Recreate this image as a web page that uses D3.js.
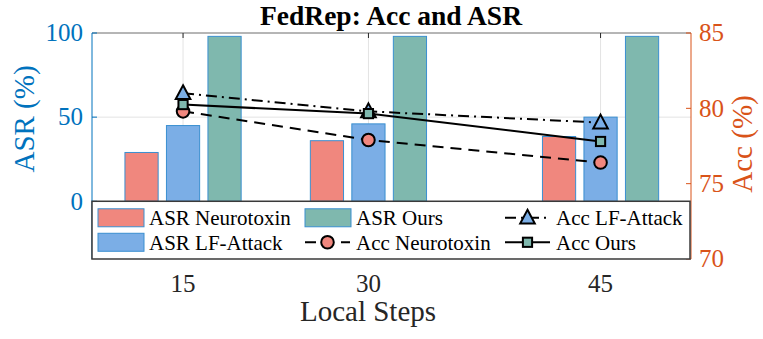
<!DOCTYPE html>
<html>
<head>
<meta charset="utf-8">
<script src="https://cdn.jsdelivr.net/npm/d3@7"></script>
<style>
  body { margin: 0; background: #fff; }
  svg text { font-family: "Liberation Serif", "Times New Roman", serif; }
</style>
</head>
<body>
<svg width="763" height="339"></svg>
<script>
// data
var steps = [15, 30, 45];
var asrNeurotoxin = [29, 36, 38.5];
var asrLF = [45, 46, 50];
var asrOurs = [98, 98, 98];
var accNeurotoxin = [79.8, 77.9, 76.4];
var accLF = [81.0, 79.8, 79.05];
var accOurs = [80.25, 79.65, 77.8];
var asrTicks = [0, 50, 100];
var accTicks = [70, 75, 80, 85];

var barSeries = [
  {name: "ASR Neurotoxin", values: asrNeurotoxin, fill: "#F0877E"},
  {name: "ASR LF-Attack", values: asrLF, fill: "#7BAEE6"},
  {name: "ASR Ours", values: asrOurs, fill: "#7FB8AE"}
];
var lineSeries = [
  {name: "Acc LF-Attack", values: accLF, fill: "#7BAEE6", dash: "11,5,2,5", marker: "tri"},
  {name: "Acc Neurotoxin", values: accNeurotoxin, fill: "#F0877E", dash: "11,7", marker: "circle"},
  {name: "Acc Ours", values: accOurs, fill: "#7FB8AE", dash: null, marker: "square"}
];

var blue = "#0072BD", orange = "#D95319";
var serif = "'Liberation Serif', 'Times New Roman', serif";

var svg = d3.select("svg"),
    margin = {top: 33, right: 72, bottom: 80, left: 92},
    width = 763 - margin.left - margin.right,
    height = 339 - margin.top - margin.bottom,
    g = svg.append("g").attr("transform", "translate(" + margin.left + "," + margin.top + ")");

// group positions along the axis are not evenly spaced in the original
var x = d3.scaleLinear().domain(steps).range([width * 0.152, width * 0.4615, width * 0.849]);
var xb = d3.scaleBand().domain(barSeries.map(function(d) { return d.name; }))
    .range([-62.25, 62.25]).paddingInner(0.2).paddingOuter(0.1);
var yl = d3.scaleLinear().domain([-34.3, 100]).range([height, 0]);
var yr = d3.scaleLinear().domain([70, 85]).range([height, 0]);

// grid
g.append("g").selectAll("line").data(steps).enter().append("line")
    .attr("x1", x).attr("x2", x).attr("y1", 0).attr("y2", height)
    .attr("stroke", "#e3e3e3").attr("stroke-width", 1);
g.append("g").selectAll("line").data(asrTicks).enter().append("line")
    .attr("x1", 0).attr("x2", width)
    .attr("y1", function(d) { return yl(d); }).attr("y2", function(d) { return yl(d); })
    .attr("stroke", "#e3e3e3").attr("stroke-width", 1);

// bars
barSeries.forEach(function(s) {
  g.append("g").selectAll("rect").data(s.values).enter().append("rect")
      .attr("x", function(d, i) { return x(steps[i]) + xb(s.name); })
      .attr("width", xb.bandwidth())
      .attr("y", function(d) { return yl(d); })
      .attr("height", function(d) { return yl(0) - yl(d); })
      .attr("fill", s.fill)
      .attr("stroke", "#3a8fd0").attr("stroke-width", 1);
});

function marker(sel, type, fill) {
  if (type === "circle") {
    sel.append("circle").attr("r", 6.3);
  } else if (type === "square") {
    sel.append("rect").attr("x", -4.6).attr("y", -4.6).attr("width", 9.2).attr("height", 9.2);
  } else {
    sel.append("path").attr("d", "M0,-8L7.3,5.8L-7.3,5.8Z");
  }
  sel.selectAll("*").attr("fill", fill).attr("stroke", "#000").attr("stroke-width", 2);
}

// accuracy lines
var line = d3.line()
    .x(function(d, i) { return x(steps[i]); })
    .y(function(d) { return yr(d); });

lineSeries.forEach(function(s) {
  g.append("path")
      .attr("d", line(s.values))
      .attr("fill", "none")
      .attr("stroke", "#000")
      .attr("stroke-width", 2)
      .attr("stroke-dasharray", s.dash);
});
lineSeries.forEach(function(s) {
  s.values.forEach(function(v, i) {
    var m = g.append("g").attr("transform", "translate(" + x(steps[i]) + "," + yr(v) + ")");
    marker(m, s.marker, s.fill);
  });
});

// top border with x ticks
g.append("line").attr("x1", 0).attr("x2", width).attr("y1", 0).attr("y2", 0)
    .attr("stroke", "#7a7a7a").attr("stroke-width", 1);
g.append("g").selectAll("line").data(steps).enter().append("line")
    .attr("x1", x).attr("x2", x).attr("y1", 0).attr("y2", 5)
    .attr("stroke", "#262626").attr("stroke-width", 1);

// left axis
g.append("line").attr("x1", 0).attr("x2", 0).attr("y1", 0).attr("y2", height)
    .attr("stroke", blue).attr("stroke-width", 1);
var ly = g.append("g").selectAll("g").data(asrTicks).enter().append("g")
    .attr("transform", function(d) { return "translate(0," + yl(d) + ")"; });
ly.append("line").attr("x1", 0).attr("x2", 5).attr("stroke", blue);
ly.append("text").attr("x", -9).attr("dy", "0.33em").attr("text-anchor", "end")
    .attr("font-family", serif)
    .attr("fill", blue).attr("font-size", 25).text(function(d) { return d; });

// right axis
g.append("line").attr("x1", width).attr("x2", width).attr("y1", 0).attr("y2", height)
    .attr("stroke", orange).attr("stroke-width", 1);
var ry = g.append("g").selectAll("g").data(accTicks).enter().append("g")
    .attr("transform", function(d) { return "translate(" + width + "," + yr(d) + ")"; });
ry.append("line").attr("x1", 0).attr("x2", -5).attr("stroke", orange);
ry.append("text").attr("x", 8).attr("dy", "0.33em")
    .attr("font-family", serif)
    .attr("fill", orange).attr("font-size", 25).text(function(d) { return d; });

// x tick labels
g.append("g").selectAll("text").data(steps).enter().append("text")
    .attr("x", x).attr("y", height + 33)
    .attr("font-family", serif)
    .attr("text-anchor", "middle").attr("fill", "#262626").attr("font-size", 25)
    .text(function(d) { return d; });

// labels
svg.append("text").attr("x", 391).attr("y", 25).attr("text-anchor", "middle")
    .attr("font-family", serif)
    .attr("font-weight", "bold").attr("font-size", 27.5).attr("fill", "#000")
    .text("FedRep: Acc and ASR");
svg.append("text").attr("x", 368).attr("y", 321).attr("text-anchor", "middle")
    .attr("font-family", serif)
    .attr("font-size", 29).attr("fill", "#262626").text("Local Steps");
svg.append("text").attr("transform", "translate(33.5,119) rotate(-90)")
    .attr("font-family", serif)
    .attr("text-anchor", "middle").attr("font-size", 29).attr("fill", blue).text("ASR (%)");
svg.append("text").attr("transform", "translate(752,144) rotate(-90)")
    .attr("font-family", serif)
    .attr("text-anchor", "middle").attr("font-size", 29).attr("fill", orange).text("Acc (%)");

// legend
var lg = g.append("g").attr("transform", "translate(0," + yl(0) + ")");
lg.append("rect").attr("x", 0).attr("y", 0).attr("width", width - 1).attr("height", height - yl(0))
    .attr("fill", "#fff").attr("stroke", "#3a3a3a").attr("stroke-width", 1.5);

var entries = [
  {kind: "bar", s: barSeries[0], col: 0, row: 0},
  {kind: "bar", s: barSeries[2], col: 1, row: 0},
  {kind: "line", s: lineSeries[0], col: 2, row: 0},
  {kind: "bar", s: barSeries[1], col: 0, row: 1},
  {kind: "line", s: lineSeries[1], col: 1, row: 1},
  {kind: "line", s: lineSeries[2], col: 2, row: 1}
];
var colX = [6, 213, 413], rowY = [16.5, 41];

entries.forEach(function(e) {
  var eg = lg.append("g").attr("transform", "translate(" + colX[e.col] + "," + rowY[e.row] + ")");
  if (e.kind === "bar") {
    eg.append("rect").attr("x", 0).attr("y", -9).attr("width", 46).attr("height", 18)
        .attr("fill", e.s.fill).attr("stroke", "#3a8fd0").attr("stroke-width", 1);
  } else {
    eg.append("line").attr("x1", 0).attr("x2", 45).attr("y1", 0).attr("y2", 0)
        .attr("stroke", "#000").attr("stroke-width", 2).attr("stroke-dasharray", e.s.dash);
    var m = eg.append("g").attr("transform", "translate(22.5,0)");
    marker(m, e.s.marker, e.s.fill);
  }
  eg.append("text").attr("x", 51).attr("y", 7.5).attr("font-size", 21).attr("fill", "#000")
      .attr("font-family", serif)
      .text(e.s.name);
});
</script>
</body>
</html>
